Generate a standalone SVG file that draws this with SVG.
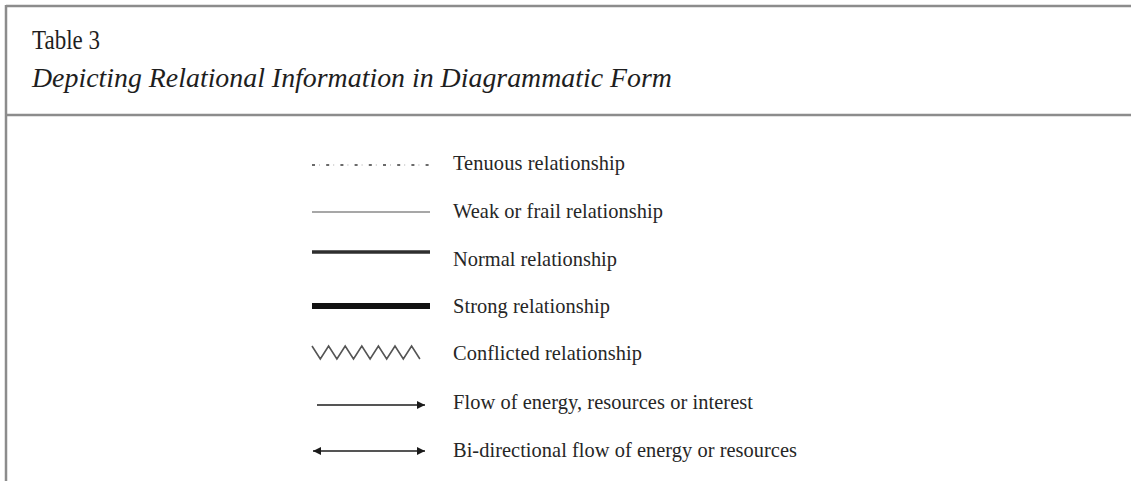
<svg xmlns="http://www.w3.org/2000/svg" width="1131" height="481" viewBox="0 0 1131 481">
  <style>
    .rule { stroke: #8c8c8c; stroke-width: 2.5; fill: none; }
    .title { font-family: "Liberation Serif", "Times New Roman", serif; font-size: 27.5px; fill: #1e1e1e; }
    .label { font-family: "Liberation Serif", "Times New Roman", serif; font-size: 20.4px; fill: #262626; }
    .sym { fill: none; stroke-linecap: butt; }
  </style>
  <defs>
    <marker id="head" viewBox="0 0 10 10" refX="10" refY="5" markerWidth="10" markerHeight="8" markerUnits="userSpaceOnUse" orient="auto-start-reverse">
      <path d="M0,0 L10,5 L0,10 Z" fill="#1a1a1a"/>
    </marker>
  </defs>

  <!-- table frame -->
  <g id="frame">
    <line class="rule" x1="6" y1="6" x2="1131" y2="6"/>
    <line class="rule" x1="6" y1="5" x2="6" y2="481"/>
    <line class="rule" x1="6" y1="115" x2="1131" y2="115"/>
  </g>

  <!-- caption -->
  <g id="caption">
    <text class="title" x="32" y="49" font-size="25" textLength="68" lengthAdjust="spacingAndGlyphs">Table 3</text>
    <text class="title" x="32" y="87" font-style="italic" textLength="640" lengthAdjust="spacingAndGlyphs">Depicting Relational Information in Diagrammatic Form</text>
  </g>

  <!-- legend line styles -->
  <g id="connectors">
    <line class="sym" x1="312" y1="165" x2="431" y2="165" stroke="#6a6a6a" stroke-width="2" stroke-dasharray="3 11.2"/>
    <line class="sym" x1="319" y1="165" x2="431" y2="165" stroke="#c4c4c4" stroke-width="1.5" stroke-dasharray="1 13.2"/>
    <line class="sym" x1="312" y1="212" x2="430" y2="212" stroke="#8a8a8a" stroke-width="1.6"/>
    <line class="sym" x1="312" y1="252" x2="430" y2="252" stroke="#2e2e2e" stroke-width="3.5"/>
    <line class="sym" x1="312" y1="306" x2="430" y2="306" stroke="#111" stroke-width="6"/>
    <polyline class="sym" stroke="#555" stroke-width="1.6" stroke-linejoin="miter"
      points="312,346 320.3,359 328.6,346 336.9,359 345.2,346 353.5,359 361.8,346 370.1,359 378.4,346 386.7,359 395,346 403.3,359 411.6,346 419.9,359"/>
    <line class="sym" x1="317" y1="405" x2="425" y2="405" stroke="#555" stroke-width="1.8" marker-end="url(#head)"/>
    <line class="sym" x1="313" y1="451" x2="425" y2="451" stroke="#555" stroke-width="1.8" marker-start="url(#head)" marker-end="url(#head)"/>
  </g>

  <!-- legend labels -->
  <g id="n-tenuous"><text class="label" x="453" y="170" textLength="172" lengthAdjust="spacing">Tenuous relationship</text></g>
  <g id="n-weak"><text class="label" x="453" y="218" textLength="210" lengthAdjust="spacing">Weak or frail relationship</text></g>
  <g id="n-normal"><text class="label" x="453" y="266" textLength="164" lengthAdjust="spacing">Normal relationship</text></g>
  <g id="n-strong"><text class="label" x="453" y="313" textLength="157" lengthAdjust="spacing">Strong relationship</text></g>
  <g id="n-conflicted"><text class="label" x="453" y="360" textLength="189" lengthAdjust="spacing">Conflicted relationship</text></g>
  <g id="n-flow"><text class="label" x="453" y="409" textLength="300" lengthAdjust="spacing">Flow of energy, resources or interest</text></g>
  <g id="n-bidir"><text class="label" x="453" y="457" textLength="344" lengthAdjust="spacing">Bi-directional flow of energy or resources</text></g>
</svg>
